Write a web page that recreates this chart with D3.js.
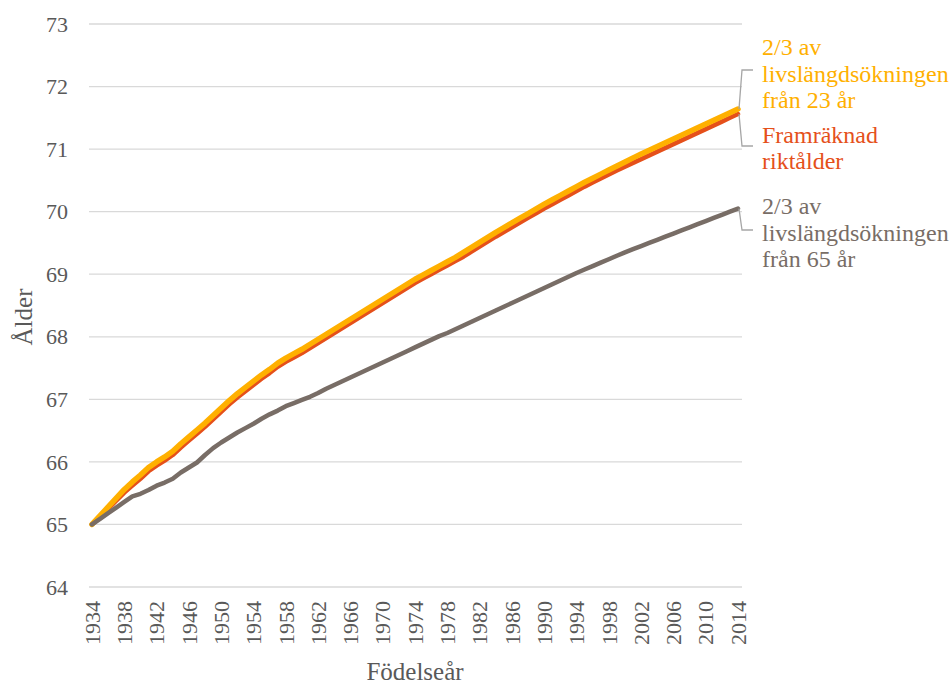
<!DOCTYPE html>
<html>
<head>
<meta charset="utf-8">
<script src="https://cdn.jsdelivr.net/npm/d3@7"></script>
<style>
  html, body { margin: 0; padding: 0; background: #fff; }
  svg { display: block; }
</style>
</head>
<body>
<svg id="chart" width="952" height="684"></svg>
<script>
// ---- data ----
const startYear = 1934;
const endYear = 2014;
const years = d3.range(startYear, endYear + 1);

const yellowValues = [
  65.00, 65.14, 65.28, 65.42, 65.56, 65.68, 65.79, 65.91, 66.00, 66.08,
  66.17, 66.29, 66.40, 66.51, 66.62, 66.74, 66.86, 66.98, 67.09, 67.19,
  67.29, 67.39, 67.48, 67.58, 67.66, 67.73, 67.80, 67.88, 67.96, 68.04,
  68.12, 68.20, 68.28, 68.36, 68.44, 68.52, 68.60, 68.68, 68.76, 68.84,
  68.92, 68.99, 69.06, 69.13, 69.20, 69.27, 69.35, 69.43, 69.51, 69.59,
  69.67, 69.745, 69.82, 69.895, 69.97, 70.045, 70.12, 70.19, 70.26, 70.33,
  70.40, 70.47, 70.535, 70.60, 70.665, 70.73, 70.795, 70.86, 70.92, 70.98,
  71.04, 71.10, 71.16, 71.22, 71.28, 71.34, 71.40, 71.46, 71.52, 71.58,
  71.64
];

const redValues = [
  65.00, 65.12, 65.25, 65.38, 65.51, 65.62, 65.73, 65.85, 65.94, 66.02,
  66.11, 66.23, 66.34, 66.45, 66.56, 66.68, 66.80, 66.92, 67.03, 67.13,
  67.23, 67.33, 67.42, 67.52, 67.60, 67.67, 67.74, 67.82, 67.90, 67.98,
  68.06, 68.14, 68.22, 68.30, 68.38, 68.46, 68.54, 68.62, 68.70, 68.78,
  68.86, 68.93, 69.00, 69.07, 69.14, 69.21, 69.28, 69.36, 69.44, 69.52,
  69.60, 69.675, 69.75, 69.825, 69.90, 69.975, 70.05, 70.12, 70.19, 70.26,
  70.33, 70.40, 70.465, 70.53, 70.595, 70.66, 70.72, 70.78, 70.84, 70.90,
  70.96, 71.02, 71.08, 71.14, 71.20, 71.26, 71.32, 71.38, 71.44, 71.50,
  71.56
];

const grayValues = [
  65.00, 65.09, 65.18, 65.27, 65.36, 65.45, 65.49, 65.55, 65.62, 65.67,
  65.73, 65.83, 65.91, 65.99, 66.11, 66.22, 66.31, 66.39, 66.47, 66.54,
  66.61, 66.69, 66.76, 66.82, 66.89, 66.94, 66.99, 67.04, 67.10, 67.17,
  67.23, 67.29, 67.35, 67.41, 67.47, 67.53, 67.59, 67.65, 67.71, 67.77,
  67.83, 67.89, 67.95, 68.01, 68.06, 68.12, 68.18, 68.24, 68.30, 68.36,
  68.42, 68.48, 68.54, 68.60, 68.66, 68.72, 68.78, 68.84, 68.90, 68.96,
  69.02, 69.075, 69.13, 69.185, 69.24, 69.295, 69.35, 69.40, 69.45, 69.50,
  69.55, 69.60, 69.65, 69.70, 69.75, 69.80, 69.85, 69.90, 69.95, 70.00,
  70.05
];

const xTickYears = [1934, 1938, 1942, 1946, 1950, 1954, 1958, 1962, 1966, 1970,
                    1974, 1978, 1982, 1986, 1990, 1994, 1998, 2002, 2006, 2010, 2014];
const yTicks = [64, 65, 66, 67, 68, 69, 70, 71, 72, 73];

const yellowLabel = ["2/3 av", "livslängdsökningen", "från 23 år"];
const redLabel = ["Framräknad", "riktålder"];
const grayLabel = ["2/3 av", "livslängdsökningen", "från 65 år"];
const yAxisTitle = "Ålder";
const xAxisTitle = "Födelseår";

// ---- styles ----
const fontFam = "'Liberation Serif', 'Tinos', 'Times New Roman', Times, 'DejaVu Serif', serif";
const colYellow = "#FFB000";
const colRed = "#E5501A";
const colGray = "#786D66";
const colText = "#595959";
const colGrid = "#D9D9D9";
const colLeader = "#A6A6A6";

const svg = d3.select("#chart").attr("font-family", fontFam);

const x = d3.scaleLinear().domain([startYear, endYear]).range([92, 738]);
const y = d3.scaleLinear().domain([64, 73]).range([587, 24]);
const gridX0 = 89, gridX1 = 742;

// gridlines
svg.append("g").selectAll("line").data(yTicks).join("line")
  .attr("x1", gridX0).attr("x2", gridX1)
  .attr("y1", d => y(d)).attr("y2", d => y(d))
  .attr("stroke", colGrid).attr("stroke-width", 1.3);

// y tick labels
svg.append("g").selectAll("text").data(yTicks).join("text")
  .attr("font-family", fontFam)
  .attr("x", 68).attr("y", d => y(d)).attr("dy", "0.35em")
  .attr("text-anchor", "end").attr("font-size", 22).attr("fill", colText)
  .text(d => d);

// x tick labels
svg.append("g").selectAll("text").data(xTickYears).join("text")
  .attr("font-family", fontFam)
  .attr("transform", d => `translate(${x(d)},601) rotate(-90)`)
  .attr("dy", "0.35em")
  .attr("text-anchor", "end").attr("font-size", 22).attr("fill", colText)
  .text(d => d);

// axis titles
svg.append("text")
  .attr("font-family", fontFam)
  .attr("transform", "translate(32,317) rotate(-90)")
  .attr("text-anchor", "middle").attr("font-size", 25).attr("fill", colText)
  .text(yAxisTitle);
svg.append("text")
  .attr("font-family", fontFam)
  .attr("x", 415).attr("y", 680)
  .attr("text-anchor", "middle").attr("font-size", 25).attr("fill", colText)
  .text(xAxisTitle);

// lines
const line = d3.line().x((d, i) => x(years[i])).y(d => y(d));
function drawLine(vals, color, width) {
  svg.append("path").datum(vals)
    .attr("d", line).attr("fill", "none")
    .attr("stroke", color).attr("stroke-width", width)
    .attr("stroke-linejoin", "round").attr("stroke-linecap", "round");
}
drawLine(redValues, colRed, 4.5);
drawLine(yellowValues, colYellow, 5.5);
drawLine(grayValues, colGray, 4.5);

// leader lines
const last = years.length - 1;
const lx = x(years[last]);
function leader(vy, ly) {
  svg.append("path")
    .attr("d", `M${lx + 1},${y(vy)} L${gridX1},${ly} L753,${ly}`)
    .attr("fill", "none").attr("stroke", colLeader).attr("stroke-width", 1.3);
}
leader(yellowValues[last], 70);
leader(redValues[last], 146);
leader(grayValues[last], 230);

// labels
function label(lines, color, cy) {
  const t = svg.append("text").attr("font-family", fontFam)
    .attr("font-size", 24).attr("fill", color);
  const lh = 26.5;
  const n = lines.length;
  lines.forEach((s, i) => {
    t.append("tspan").attr("x", 762)
      .attr("y", cy + (i - (n - 1) / 2) * lh)
      .attr("dy", "0.35em").text(s);
  });
}
label(yellowLabel, colYellow, 73.5);
label(redLabel, colRed, 147.5);
label(grayLabel, colGray, 232.5);
</script>
</body>
</html>
